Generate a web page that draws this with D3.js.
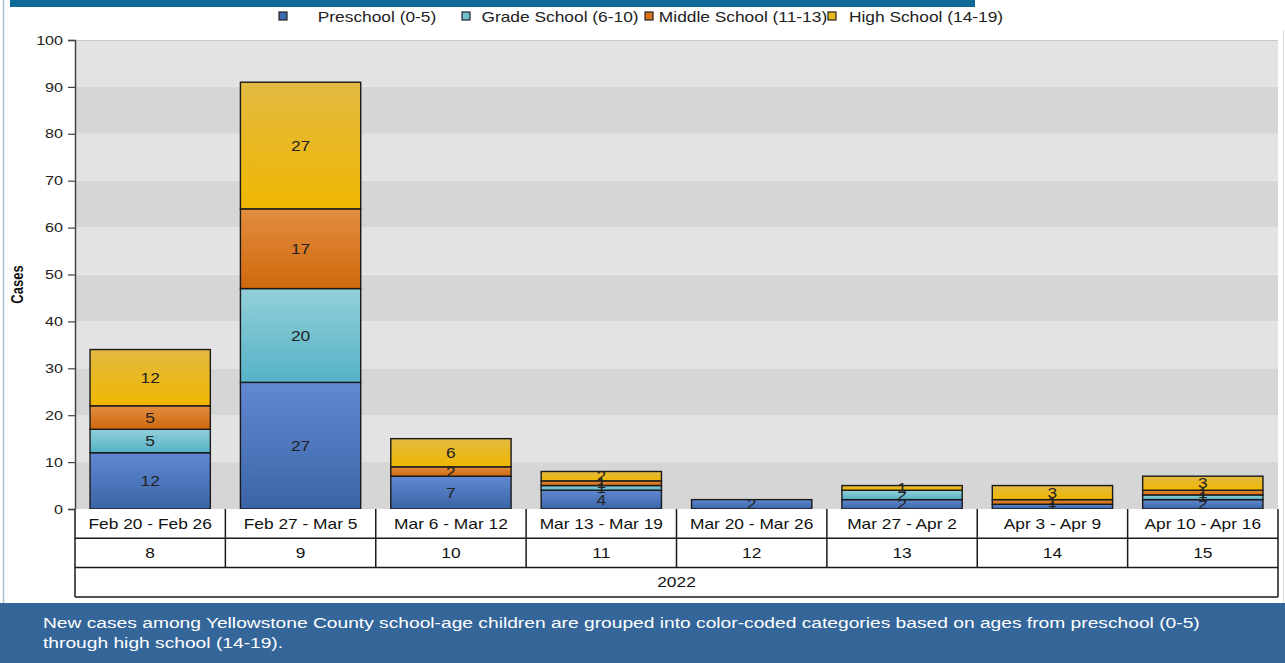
<!DOCTYPE html>
<html>
<head>
<meta charset="utf-8">
<script src="https://cdn.jsdelivr.net/npm/d3@7"></script>
<style>
  body { margin: 0; background: #fff; }
  svg { display: block; font-family: "Liberation Sans", Arial, sans-serif; }
</style>
</head>
<body>
<svg id="chart" width="1285" height="663"></svg>
<script>
// chart data
const weeks = ['Feb 20 - Feb 26', 'Feb 27 - Mar 5', 'Mar 6 - Mar 12', 'Mar 13 - Mar 19',
               'Mar 20 - Mar 26', 'Mar 27 - Apr 2', 'Apr 3 - Apr 9', 'Apr 10 - Apr 16'];
const weekNumbers = ['8', '9', '10', '11', '12', '13', '14', '15'];
const yearLabel = '2022';
const seriesNames = ['Preschool (0-5)', 'Grade School (6-10)', 'Middle School (11-13)', 'High School (14-19)'];
const preschool = [12, 27, 7, 4, 2, 2, 1, 2];
const gradeSchool = [5, 20, 0, 1, 0, 2, 0, 1];
const middleSchool = [5, 17, 2, 1, 0, 0, 1, 1];
const highSchool = [12, 27, 6, 2, 0, 1, 3, 3];
const yTicks = [0, 10, 20, 30, 40, 50, 60, 70, 80, 90, 100];
const footerLines = [
    'New cases among Yellowstone County school-age children are grouped into color-coded categories based on ages from preschool (0-5)',
    'through high school (14-19).'
];

const root = d3.select('#chart');

const WIDTH = 1285;
const PLOT_LEFT = 75;
const PLOT_RIGHT = 1278;
const PLOT_TOP = 40;
const PLOT_BOTTOM = 509;
const ROW_H = 29.3;
// the source image is stretched sideways, so text is too
const STRETCH = 1.24;

// gradient colours, top -> bottom
const COLORS = [
    ['#6189d3', '#3a64a6'],
    ['#93cfd9', '#55b2c6'],
    ['#e28d40', '#d0680c'],
    ['#e3b943', '#f0b700']
];
const LEGEND_FILL = ['#3f68b0', '#6fc0cf', '#d9741c', '#eab81a'];

const x = d3.scaleBand()
    .domain(weeks)
    .range([PLOT_LEFT, PLOT_RIGHT])
    .paddingInner(0.2)
    .paddingOuter(0.1);

const y = d3.scaleLinear()
    .domain([0, 100])
    .range([PLOT_BOTTOM, PLOT_TOP]);

const step = x.step();
const cellLeft = (i) => PLOT_LEFT + step * i;

// place a text at (tx, ty) with the sideways stretch
function put(sel, tx, ty) {
    return sel.attr('x', 0).attr('y', 0)
        .attr('transform', `translate(${tx},${ty}) scale(${STRETCH},1)`);
}

drawFrame();
drawBackground();
drawAxis();
drawBars();
drawTable();
drawLegend();
drawFooter();

function drawFrame() {
    // cut-off title bar and page border
    root.append('rect')
        .attr('x', 10).attr('y', 0).attr('width', 965).attr('height', 7)
        .attr('fill', '#0d6a97');
    root.append('line')
        .attr('x1', 3.5).attr('x2', 3.5).attr('y1', 0).attr('y2', 603)
        .attr('stroke', '#a9bfd6').attr('stroke-width', 1.5);
    root.append('line')
        .attr('x1', 1283.5).attr('x2', 1283.5).attr('y1', 30).attr('y2', 603)
        .attr('stroke', '#dcdcdc').attr('stroke-width', 1);
}

function drawBackground() {
    for (let i = 0; i < yTicks.length - 1; i++) {
        root.append('rect')
            .attr('x', PLOT_LEFT)
            .attr('y', y(yTicks[i + 1]))
            .attr('width', PLOT_RIGHT - PLOT_LEFT)
            .attr('height', y(yTicks[i]) - y(yTicks[i + 1]))
            .attr('fill', i % 2 === 0 ? '#d6d6d6' : '#e3e3e3');
    }
    root.append('line')
        .attr('x1', PLOT_LEFT).attr('x2', PLOT_RIGHT)
        .attr('y1', PLOT_TOP + 0.5).attr('y2', PLOT_TOP + 0.5)
        .attr('stroke', '#c8c8c8');
}

function drawAxis() {
    const axis = root.append('g')
        .attr('transform', `translate(${PLOT_LEFT},0)`)
        .call(d3.axisLeft(y).tickValues(yTicks).tickSize(7).tickPadding(5));
    axis.select('.domain').attr('stroke', '#444').attr('stroke-width', 1.5);
    axis.selectAll('.tick line').attr('stroke', '#444').attr('stroke-width', 1.2);
    axis.selectAll('.tick text')
        .attr('font-size', 13)
        .attr('font-family', '"Liberation Sans", Arial, sans-serif')
        .attr('fill', '#222')
        .each(function () {
            const t = d3.select(this);
            const tx = +t.attr('x');
            t.attr('x', 0).attr('transform', `translate(${tx},0) scale(${STRETCH},1)`);
        });

    root.append('text')
        .text('Cases')
        .attr('transform', `translate(23,${(PLOT_TOP + PLOT_BOTTOM) / 2 + 10}) rotate(-90) scale(1,${STRETCH})`)
        .attr('text-anchor', 'middle')
        .attr('font-size', 13)
        .attr('font-weight', 'bold')
        .attr('fill', '#111');
}

function drawBars() {
    const defs = root.append('defs');
    COLORS.forEach((c, i) => {
        const g = defs.append('linearGradient')
            .attr('id', 'grad' + i)
            .attr('x1', 0).attr('y1', 0).attr('x2', 0).attr('y2', 1);
        g.append('stop').attr('offset', '0%').attr('stop-color', c[0]);
        g.append('stop').attr('offset', '100%').attr('stop-color', c[1]);
    });

    const table = weeks.map((w, i) => ({
        week: w,
        s0: preschool[i], s1: gradeSchool[i], s2: middleSchool[i], s3: highSchool[i]
    }));
    const stacked = d3.stack().keys(['s0', 's1', 's2', 's3'])(table);

    stacked.forEach((layer, si) => {
        const g = root.append('g');
        layer.forEach((d) => {
            const v = d[1] - d[0];
            if (v <= 0) {
                return;
            }
            g.append('rect')
                .attr('x', x(d.data.week))
                .attr('y', y(d[1]))
                .attr('width', x.bandwidth())
                .attr('height', y(d[0]) - y(d[1]))
                .attr('fill', `url(#grad${si})`)
                .attr('stroke', '#1a1a1a')
                .attr('stroke-width', 1.4);
        });
    });

    // value labels on every segment
    stacked.forEach((layer) => {
        layer.forEach((d) => {
            const v = d[1] - d[0];
            if (v <= 0) {
                return;
            }
            put(root.append('text'), x(d.data.week) + x.bandwidth() / 2, (y(d[0]) + y(d[1])) / 2)
                .text(v)
                .attr('dy', '0.36em')
                .attr('text-anchor', 'middle')
                .attr('font-size', 14)
                .attr('fill', '#222');
        });
    });
}

function drawTable() {
    const g = root.append('g');
    const top = PLOT_BOTTOM;
    const bottom = top + ROW_H * 3;

    g.append('rect')
        .attr('x', PLOT_LEFT).attr('y', top)
        .attr('width', PLOT_RIGHT - PLOT_LEFT).attr('height', ROW_H * 3)
        .attr('fill', '#fff');

    weeks.forEach((w, i) => {
        const cx = cellLeft(i) + step / 2;
        put(g.append('text'), cx, top + ROW_H / 2)
            .text(w).attr('dy', '0.36em')
            .attr('text-anchor', 'middle').attr('font-size', 14).attr('fill', '#111');
        put(g.append('text'), cx, top + ROW_H * 1.5)
            .text(weekNumbers[i]).attr('dy', '0.36em')
            .attr('text-anchor', 'middle').attr('font-size', 14).attr('fill', '#111');
    });
    put(g.append('text'), (PLOT_LEFT + PLOT_RIGHT) / 2, top + ROW_H * 2.5)
        .text(yearLabel).attr('dy', '0.36em')
        .attr('text-anchor', 'middle').attr('font-size', 14).attr('fill', '#111');

    const stroke = '#1a1a1a';
    for (let i = 0; i <= weeks.length; i++) {
        const lx = cellLeft(i);
        g.append('line')
            .attr('x1', lx).attr('x2', lx)
            .attr('y1', top).attr('y2', (i === 0 || i === weeks.length) ? bottom : top + ROW_H * 2)
            .attr('stroke', stroke).attr('stroke-width', 1.5);
    }
    for (let r = 1; r <= 3; r++) {
        g.append('line')
            .attr('x1', PLOT_LEFT).attr('x2', PLOT_RIGHT)
            .attr('y1', top + ROW_H * r).attr('y2', top + ROW_H * r)
            .attr('stroke', stroke).attr('stroke-width', 1.5);
    }
}

function drawLegend() {
    const ITEM_W = 183;
    const START = 278;
    const g = root.append('g');
    seriesNames.forEach((name, i) => {
        const left = START + ITEM_W * i;
        g.append('rect')
            .attr('x', left + 1).attr('y', 12)
            .attr('width', 8).attr('height', 8)
            .attr('fill', LEGEND_FILL[i])
            .attr('stroke', '#222').attr('stroke-width', 1.2);
        put(g.append('text'), left + 15 + (ITEM_W - 15) / 2, 17)
            .text(name).attr('dy', '0.36em')
            .attr('text-anchor', 'middle')
            .attr('font-size', 14)
            .attr('fill', '#222');
    });
}

function drawFooter() {
    root.append('rect')
        .attr('x', 0).attr('y', 603)
        .attr('width', WIDTH).attr('height', 60)
        .attr('fill', '#34669a');
    footerLines.forEach((line, i) => {
        put(root.append('text'), 43, 628 + i * 20)
            .text(line)
            .attr('font-size', 15.5)
            .attr('fill', '#fff');
    });
}
</script>
</body>
</html>
